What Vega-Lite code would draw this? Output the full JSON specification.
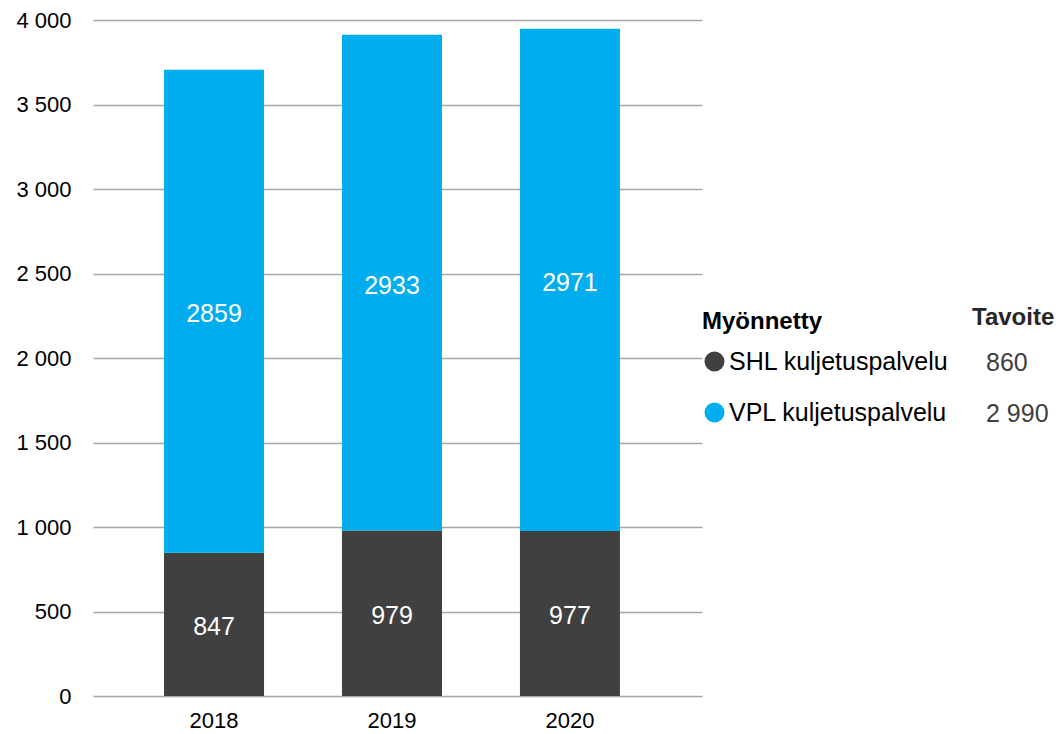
{
  "$schema": "https://vega.github.io/schema/vega-lite/v6.json",
  "width": 609,
  "height": 676,
  "autosize": {"type": "none"},
  "padding": {"left": 93, "top": 20, "right": 358, "bottom": 38},
  "background": "white",
  "config": {
    "font": "Liberation Sans",
    "view": {"stroke": null}
  },
  "datasets": {
    "bars": [
      {"year": "2018", "series": "SHL kuljetuspalvelu", "value": 847},
      {"year": "2018", "series": "VPL kuljetuspalvelu", "value": 2859},
      {"year": "2019", "series": "SHL kuljetuspalvelu", "value": 979},
      {"year": "2019", "series": "VPL kuljetuspalvelu", "value": 2933},
      {"year": "2020", "series": "SHL kuljetuspalvelu", "value": 977},
      {"year": "2020", "series": "VPL kuljetuspalvelu", "value": 2971}
    ],
    "targets": [
      {"series": "SHL kuljetuspalvelu", "tavoite": "860"},
      {"series": "VPL kuljetuspalvelu", "tavoite": "2 990"}
    ]
  },
  "layer": [
    {
      "data": {"name": "bars"},
      "mark": {"type": "bar"},
      "encoding": {
        "x": {
          "field": "year",
          "type": "ordinal",
          "scale": {"paddingInner": 0.438, "paddingOuter": 0.43, "align": 0.464},
          "axis": {
            "title": null,
            "labelAngle": 0,
            "labelFontSize": 22,
            "labelColor": "#000000",
            "labelPadding": 14,
            "domain": false,
            "ticks": false,
            "grid": false
          }
        },
        "y": {
          "field": "value",
          "type": "quantitative",
          "stack": "zero",
          "scale": {"domain": [0, 4000]},
          "axis": {
            "title": null,
            "values": [0, 500, 1000, 1500, 2000, 2500, 3000, 3500, 4000],
            "labelExpr": "replace(format(datum.value, ','), ',', ' ')",
            "labelFontSize": 22,
            "labelColor": "#000000",
            "labelPadding": 22,
            "domain": false,
            "ticks": false,
            "grid": true,
            "gridColor": "#A6A6A6",
            "gridWidth": 1.6
          }
        },
        "color": {
          "field": "series",
          "type": "nominal",
          "scale": {
            "domain": ["SHL kuljetuspalvelu", "VPL kuljetuspalvelu"],
            "range": ["#404040", "#00AEEF"]
          },
          "legend": {
            "orient": "none",
            "legendX": 609,
            "legendY": 290,
            "title": "Myönnetty",
            "titleFontSize": 24,
            "titleFontWeight": "bold",
            "titleColor": "#000000",
            "titlePadding": 15,
            "labelFontSize": 25,
            "labelColor": "#000000",
            "labelLimit": 400,
            "labelOffset": 2,
            "symbolType": "circle",
            "symbolSize": 400,
            "symbolStrokeWidth": 0,
            "symbolOpacity": 1,
            "rowPadding": 25
          }
        },
        "order": {"field": "series", "sort": "ascending"}
      }
    },
    {
      "data": {"name": "bars"},
      "transform": [
        {"stack": "value", "groupby": ["year"], "sort": [{"field": "series", "order": "ascending"}], "as": ["v0", "v1"]},
        {"calculate": "(datum.v0 + datum.v1) / 2", "as": "mid"}
      ],
      "mark": {"type": "text", "color": "#FFFFFF", "fontSize": 25, "baseline": "middle", "align": "center", "dy": 3},
      "encoding": {
        "x": {"field": "year", "type": "ordinal"},
        "y": {"field": "mid", "type": "quantitative"},
        "text": {"field": "value", "type": "quantitative", "format": "d"}
      }
    },
    {
      "data": {"name": "targets"},
      "mark": {"type": "point", "opacity": 0},
      "encoding": {
        "shape": {
          "field": "tavoite",
          "type": "nominal",
          "scale": {"domain": ["860", "2 990"]},
          "legend": {
            "orient": "none",
            "legendX": 879,
            "legendY": 286,
            "title": "Tavoite",
            "titleFontSize": 24,
            "titleFontWeight": "bold",
            "titleColor": "#262626",
            "titlePadding": 20,
            "labelFontSize": 25,
            "labelColor": "#404040",
            "labelOffset": -11,
            "symbolSize": 0,
            "symbolOpacity": 0,
            "symbolStrokeWidth": 0,
            "rowPadding": 25
          }
        }
      }
    }
  ]
}
